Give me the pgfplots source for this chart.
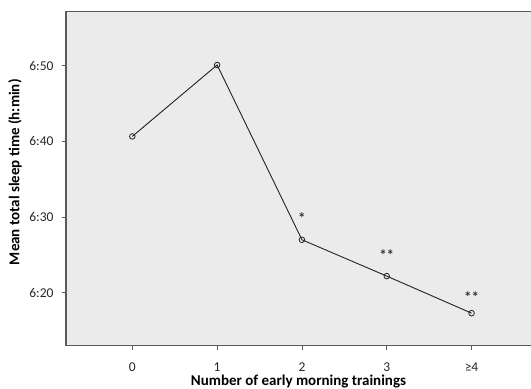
\documentclass[border=0pt]{standalone}
\usepackage{pgfplots}
\pgfplotsset{compat=1.18}
\usepackage{fontspec}
\setmainfont{Carlito}
\definecolor{bggray}{HTML}{EBEBEB}
\definecolor{framegray}{HTML}{5A5A5A}
\definecolor{linegray}{HTML}{222222}
\begin{document}
\begin{tikzpicture}
\begin{axis}[
  scale only axis,
  width=470bp, height=334bp,
  xmin=-0.782, xmax=4.76,
  ymin=373, ymax=417.14,
  axis background/.style={fill=bggray},
  axis line style={framegray, line width=1.3bp},
  xtick={0,1,2,3,4},
  xticklabels={0,1,2,3,≥4},
  ytick={380,390,400,410},
  yticklabels={6:20,6:30,6:40,6:50},
  xtick pos=bottom, ytick pos=left,
  tick align=outside,
  major tick length=4bp,
  tick style={framegray, line width=0.8bp},
  ticklabel style={font=\fontsize{13.5bp}{15bp}\selectfont, text=black!85},
  xticklabel style={anchor=north, yshift=-10bp},
  yticklabel style={anchor=east, xshift=-5bp},
  xlabel={\bfseries Number of early morning trainings},
  ylabel={\bfseries Mean total sleep time (h:min)},
  label style={font=\fontsize{15bp}{17bp}\selectfont},
  xlabel style={at={(axis description cs:0.4947,0)}, anchor=base, yshift=-39.5bp},
  ylabel style={at={(axis description cs:0,0.5)}, anchor=center, xshift=6.5bp, yshift=51bp},
  clip=false,
]
\addplot[linegray, line width=0.9bp, mark=o, mark size=2.8bp,
  mark options={linegray, line width=0.8bp}]
  coordinates {(0,400.66) (1,410.1) (2,387.0) (3,382.2) (4,377.3)};
\node[anchor=base, font=\bfseries\fontsize{15bp}{17bp}\selectfont, text=black!80] at (axis cs:2,389.1) {*};
\node[anchor=base, font=\bfseries\fontsize{15bp}{17bp}\selectfont, text=black!80] at (axis cs:3,384.2) {**};
\node[anchor=base, font=\bfseries\fontsize{15bp}{17bp}\selectfont, text=black!80] at (axis cs:4,378.7) {**};
\end{axis}
\pgfresetboundingbox
\useasboundingbox (current axis.south west) ++(-66bp,-43.3bp) rectangle ++(531bp,389bp);
\end{tikzpicture}
\end{document}
